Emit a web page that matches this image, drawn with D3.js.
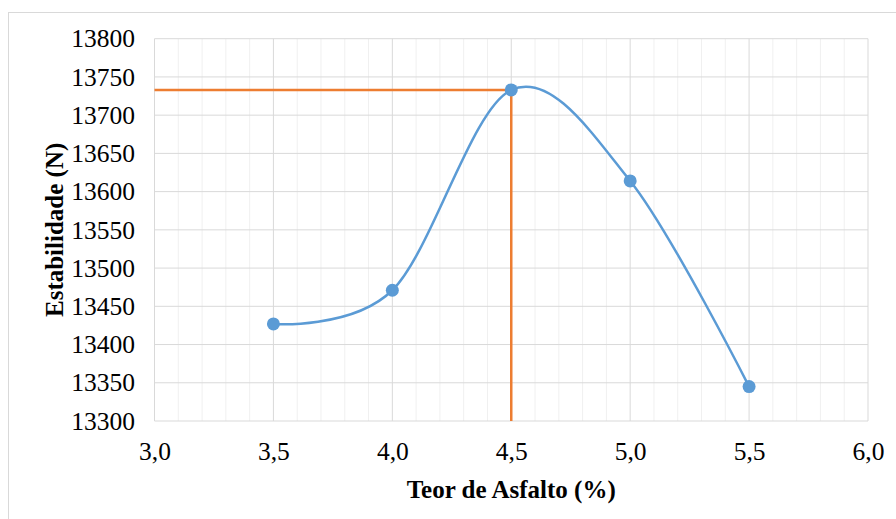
<!DOCTYPE html>
<html><head><meta charset="utf-8">
<script src="https://cdn.jsdelivr.net/npm/d3@7"></script>
<style>body{margin:0;background:#fff}svg{display:block}</style>
</head><body><svg id="c" width="896" height="519"></svg>
<script>
const teor = [3.5, 4.0, 4.5, 5.0, 5.5];
const estabilidade = [13427, 13471, 13733, 13614, 13345];
const xTicks = [3.0, 3.5, 4.0, 4.5, 5.0, 5.5, 6.0];
const yTicks = [13300, 13350, 13400, 13450, 13500, 13550, 13600, 13650, 13700, 13750, 13800];
const optimoX = 4.5, optimoY = 13733;

const svg = d3.select('#c');
const W = 896, H = 519;
const m = {l: 154.5, r: 868, t: 38.7, b: 421};
svg.append('rect').attr('x', 8.5).attr('y', 12.5).attr('width', W).attr('height', H)
  .attr('fill', '#fff').attr('stroke', '#d9d9d9');

const x = d3.scaleLinear().domain([3, 6]).range([m.l, m.r]);
const y = d3.scaleLinear().domain([13300, 13800]).range([m.b, m.t]);
const font = '"Liberation Serif","Times New Roman",serif';

// minor vertical gridlines
const minor = d3.range(30, 61).map(v => v / 10).filter(v => Math.round(v * 10) % 5 !== 0);
svg.append('g').selectAll('line').data(minor).join('line')
  .attr('x1', d => x(d)).attr('x2', d => x(d)).attr('y1', m.t).attr('y2', m.b)
  .attr('stroke', '#f0f0f0').attr('stroke-width', 1);
// major vertical
svg.append('g').selectAll('line').data(xTicks).join('line')
  .attr('x1', d => x(d)).attr('x2', d => x(d)).attr('y1', m.t).attr('y2', m.b)
  .attr('stroke', '#d9d9d9').attr('stroke-width', 1);
// major horizontal
svg.append('g').selectAll('line').data(yTicks).join('line')
  .attr('x1', m.l).attr('x2', m.r).attr('y1', d => y(d)).attr('y2', d => y(d))
  .attr('stroke', '#d9d9d9').attr('stroke-width', 1);

// axes labels
const yAxis = d3.axisLeft(y).tickValues(yTicks).tickSize(0).tickPadding(19.5).tickFormat(d3.format('d'));
const gy = svg.append('g').attr('transform', `translate(${m.l},0)`).call(yAxis);
gy.select('.domain').remove();
gy.selectAll('text').attr('font-family', font).attr('font-size', 25.5).attr('fill', '#000');

const fmtX = d => d.toFixed(1).replace('.', ',');
const xAxis = d3.axisBottom(x).tickValues(xTicks).tickSize(0).tickPadding(21).tickFormat(fmtX);
const gx = svg.append('g').attr('transform', `translate(0,${m.b})`).call(xAxis);
gx.select('.domain').remove();
gx.selectAll('text').attr('font-family', font).attr('font-size', 25.5).attr('fill', '#000');

// orange lines
svg.append('line').attr('x1', m.l).attr('x2', x(optimoX)).attr('y1', y(optimoY)).attr('y2', y(optimoY))
  .attr('stroke', '#ED7D31').attr('stroke-width', 2.5);
svg.append('line').attr('x1', x(optimoX)).attr('x2', x(optimoX)).attr('y1', y(optimoY)).attr('y2', m.b)
  .attr('stroke', '#ED7D31').attr('stroke-width', 2.5);

// series
const pts = teor.map((t, i) => [t, estabilidade[i]]);
const line = d3.line().x(d => x(d[0])).y(d => y(d[1])).curve(d3.curveCatmullRom.alpha(0));
svg.append('path').datum(pts).attr('d', line).attr('fill', 'none')
  .attr('stroke', '#5B9BD5').attr('stroke-width', 2.5);
svg.append('g').selectAll('circle').data(pts).join('circle')
  .attr('cx', d => x(d[0])).attr('cy', d => y(d[1])).attr('r', 6.5).attr('fill', '#5B9BD5');

// titles
svg.append('text').attr('x', (m.l + m.r) / 2).attr('y', 498).attr('text-anchor', 'middle')
  .attr('font-family', font).attr('font-size', 25).attr('font-weight', 'bold').text('Teor de Asfalto (%)');
svg.append('text').attr('transform', `translate(63,${(m.t + m.b) / 2}) rotate(-90)`).attr('text-anchor', 'middle')
  .attr('font-family', font).attr('font-size', 25).attr('font-weight', 'bold').text('Estabilidade (N)');
</script></body></html>
